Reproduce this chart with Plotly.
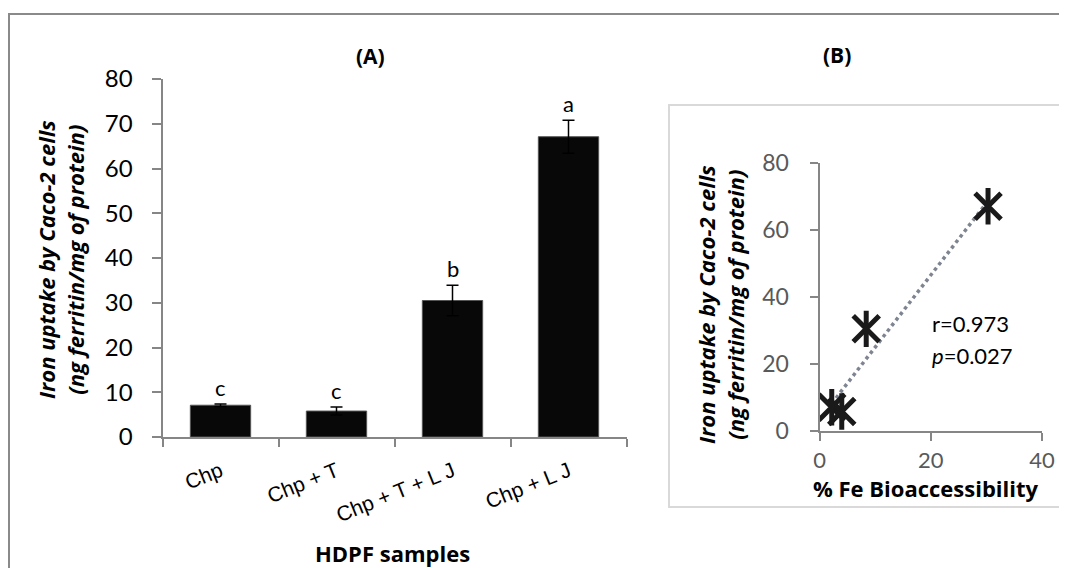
import numpy as np
import plotly.graph_objects as go

# ---- Data ----
categories = ["Chp", "Chp + T", "Chp + T + L J", "Chp + L J"]
uptake = [7.1, 5.8, 30.5, 67.1]
uptake_err = [0.3, 0.9, 3.4, 3.7]
letters = ["c", "c", "b", "a"]

bioacc = [2.2, 4.0, 8.4, 30.3]
uptake_b = [7.1, 5.8, 30.5, 67.1]
r_text = "r=0.973"
p_text = "<i>p</i>=0.027"

W, H = 1067, 568
OFF = 8  # page body margin
def px(x):
    return (x - OFF) / W
def py(y):
    return 1 - (y - OFF) / H

FONT = "Lato"
TFONT = "Open Sans"
fig = go.Figure()

# Panel A bars
fig.add_trace(go.Bar(
    x=categories, y=uptake,
    marker=dict(color="#080808", line=dict(color="#555555", width=1)),
    error_y=dict(type="data", array=uptake_err, visible=True,
                 color="#000000", thickness=1.5, width=6),
    xaxis="x", yaxis="y", showlegend=False,
))

# Linear trend line (least squares)
slope, intercept = np.polyfit(bioacc, uptake_b, 1)
tx = [min(bioacc), max(bioacc)]
ty = [slope * v + intercept for v in tx]
fig.add_trace(go.Scatter(
    x=tx, y=ty, mode="lines",
    line=dict(color="#7e8591", width=3.5, dash="dot"),
    xaxis="x2", yaxis="y2", showlegend=False,
))

# Panel B scatter: star marker = X plus vertical bar
for sym in ["x-thin-open", "line-ns-open"]:
    fig.add_trace(go.Scatter(
        x=bioacc, y=uptake_b, mode="markers",
        marker=dict(symbol=sym, size=26, color="#1a1a1a",
                    line=dict(color="#1a1a1a", width=5)),
        xaxis="x2", yaxis="y2", showlegend=False,
    ))

def ann(x, y, text, size=21, xanchor="center", angle=0, family=FONT):
    return dict(x=px(x), y=py(y), xref="paper", yref="paper", text=text,
                xanchor=xanchor, yanchor="middle", textangle=angle,
                showarrow=False, font=dict(family=family, size=size, color="#000"))

annotations = []
for c, v, e, l in zip(categories, uptake, uptake_err, letters):
    annotations.append(dict(x=c, y=v + e, xref="x", yref="y", text=l,
                            showarrow=False, xanchor="center", yanchor="bottom", yshift=1,
                            font=dict(family=FONT, size=22, color="#000")))

ytitle = "<b><i>Iron uptake by Caco-2 cells<br>(ng ferritin/mg of protein)</i></b>"
annotations += [
    ann(370, 56, "<b>(A)</b>", 21, family=TFONT),
    ann(837, 55, "<b>(B)</b>", 21, family=TFONT),
    ann(60, 260, ytitle, 22, angle=-90, family=TFONT),
    ann(720, 305, ytitle, 22, angle=-90, family=TFONT),
    ann(392, 553, "<b>HDPF samples</b>", 22, family=TFONT),
    ann(926, 488, "<b>% Fe Bioaccessibility</b>", 22, family=TFONT),
    ann(930, 323, r_text, 22, xanchor="left"),
    ann(930, 355, p_text, 22, xanchor="left"),
]

shapes = [
    dict(type="rect", xref="paper", yref="paper",
         x0=px(9), x1=1.02, y0=-0.02, y1=py(14),
         line=dict(color="#8a8a8a", width=2), layer="below"),
    dict(type="rect", xref="paper", yref="paper",
         x0=px(669), x1=1.02, y0=py(507), y1=py(105),
         line=dict(color="#d9d9d9", width=2), fillcolor="white", layer="below"),
]

axis_gray = "#868686"
fig.update_layout(
    width=W, height=H,
    margin=dict(l=0, r=0, t=0, b=0, pad=0, autoexpand=False),
    paper_bgcolor="white", plot_bgcolor="rgba(0,0,0,0)",
    bargap=0.48,
    xaxis=dict(domain=[px(162.5), px(626.5)], type="category",
               showline=True, linecolor=axis_gray, linewidth=2,
               ticks="outside", tickson="boundaries", ticklen=8,
               tickcolor=axis_gray, tickwidth=2, tickangle=-22,
               ticklabelstandoff=12, automargin=False,
               tickfont=dict(family="Liberation Sans", size=21, color="#000"),
               showgrid=False, zeroline=False, anchor="y"),
    yaxis=dict(domain=[py(437), py(79)], range=[0, 80], dtick=10,
               showline=True, linecolor=axis_gray, linewidth=2,
               ticks="outside", ticklen=9, tickcolor=axis_gray, tickwidth=2,
               ticklabelstandoff=14, automargin=False,
               tickfont=dict(family=FONT, size=24, color="#000"),
               showgrid=False, zeroline=False, anchor="x"),
    xaxis2=dict(domain=[px(819.5), px(1042)], range=[0, 40], dtick=20,
                showline=True, linecolor=axis_gray, linewidth=2,
                ticks="outside", ticklen=8, tickcolor=axis_gray, tickwidth=2,
                ticklabelstandoff=1, automargin=False,
                tickfont=dict(family=FONT, size=22, color="#595959"),
                showgrid=False, zeroline=False, anchor="y2"),
    yaxis2=dict(domain=[py(431), py(163)], range=[0, 80], dtick=20,
                showline=True, linecolor=axis_gray, linewidth=2,
                ticks="outside", ticklen=8, tickcolor=axis_gray, tickwidth=2,
                ticklabelstandoff=16, automargin=False,
                tickfont=dict(family=FONT, size=23, color="#595959"),
                showgrid=False, zeroline=False, anchor="x2"),
    annotations=annotations,
    shapes=shapes,
)

fig.write_html("out.html")
